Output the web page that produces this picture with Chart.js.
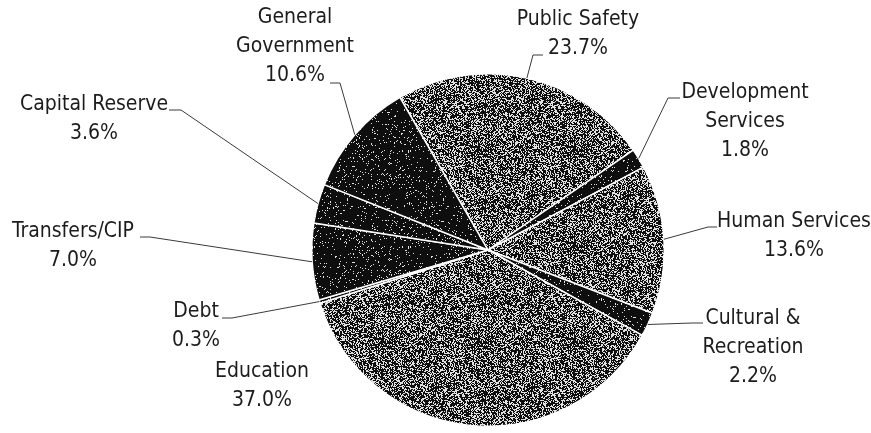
<!DOCTYPE html>
<html>
<head>
<meta charset="utf-8">
<script src="https://cdn.jsdelivr.net/npm/chart.js@4.4.1/dist/chart.umd.min.js"></script>
<style>
  html, body { margin: 0; padding: 0; background: #fff; }
  #wrap { width: 871px; height: 433px; }
</style>
</head>
<body>
<div id="wrap"><canvas id="chartPie" width="871" height="433"></canvas></div>
<script>
// Dados do gráfico (ordem horária a partir de Public Safety)
const categorias = ['Public Safety', 'Development Services', 'Human Services', 'Cultural & Recreation',
    'Education', 'Debt', 'Transfers/CIP', 'Capital Reserve', 'General Government'];
const percentuais = [23.7, 1.8, 13.6, 2.2, 37.0, 0.3, 7.0, 3.6, 10.6];
const rotulos = [['Public Safety'], ['Development', 'Services'], ['Human Services'], ['Cultural &', 'Recreation'],
    ['Education'], ['Debt'], ['Transfers/CIP'], ['Capital Reserve'], ['General', 'Government']];

// tom de cada fatia: 'claro' = cinza pontilhado, 'escuro' = quase preto
const tons = ['claro', 'escuro', 'claro', 'escuro', 'claro', 'escuro', 'escuro', 'escuro', 'escuro'];

// Layout dos rótulos (centro do texto, início da linha guia e cotovelo)
const layoutRotulos = [
    { x: 578, y: 20, de: [543, 55], cot: [533, 55] },
    { x: 745, y: 93, de: [680, 98], cot: [668, 98] },
    { x: 794, y: 222, de: [717, 227], cot: [708, 227] },
    { x: 753, y: 319, de: [703, 323], cot: [692, 323] },
    { x: 262, y: 372, de: null },
    { x: 196, y: 312, de: [222, 318], cot: [232, 318] },
    { x: 73, y: 232, de: [140, 237], cot: [150, 237] },
    { x: 94, y: 105, de: [169, 110], cot: [181, 110] },
    { x: 295, y: 18, de: [330, 83], cot: [340, 83] }
];

const FONTE = '21px "DejaVu Sans Condensed", "Liberation Sans Narrow", "Roboto", sans-serif';

// Textura pontilhada imitando a digitalização
function criarTextura(densidade, semente) {
    const c = document.createElement('canvas');
    c.width = 96; c.height = 96;
    const ctx = c.getContext('2d');
    const img = ctx.createImageData(96, 96);
    let s = semente;
    for (let i = 0; i < 96 * 96; i++) {
        s = (s * 1103515245 + 12345) & 0x7fffffff;
        const v = (s / 0x7fffffff) < densidade ? 225 : 14;
        img.data[i * 4] = v;
        img.data[i * 4 + 1] = v;
        img.data[i * 4 + 2] = v;
        img.data[i * 4 + 3] = 255;
    }
    ctx.putImageData(img, 0, 0);
    return ctx.createPattern(c, 'repeat');
}

const ctxBase = document.getElementById('chartPie').getContext('2d');
const texClara = criarTextura(0.38, 7);
const texEscura = criarTextura(0.06, 13);
const cores = tons.map(t => t === 'claro' ? texClara : texEscura);

// Plugin para rótulos externos com linhas guia
const rotulosExternos = {
    id: 'rotulosExternos',
    afterDraw(chart) {
        const ctx = chart.ctx;
        const arcos = chart.getDatasetMeta(0).data;
        ctx.save();
        ctx.font = FONTE;
        ctx.fillStyle = '#1c1c1c';
        ctx.textAlign = 'center';
        ctx.textBaseline = 'middle';

        arcos.forEach((arco, i) => {
            const lay = layoutRotulos[i];
            const linhas = rotulos[i].concat([percentuais[i].toFixed(1) + '%']);
            linhas.forEach((txt, k) => ctx.fillText(txt, lay.x, lay.y + k * 29));

            if (!lay.de) return;
            const meio = (arco.startAngle + arco.endAngle) / 2;
            const px = arco.x + Math.cos(meio) * arco.outerRadius;
            const py = arco.y + Math.sin(meio) * arco.outerRadius;
            ctx.strokeStyle = '#3a3a3a';
            ctx.lineWidth = 1;
            ctx.beginPath();
            ctx.moveTo(lay.de[0], lay.de[1]);
            ctx.lineTo(lay.cot[0], lay.cot[1]);
            ctx.lineTo(px, py);
            ctx.stroke();
        });
        ctx.restore();
    }
};

new Chart(ctxBase, {
    type: 'pie',
    data: {
        labels: categorias,
        datasets: [{
            data: percentuais,
            backgroundColor: cores,
            borderColor: '#ffffff',
            borderWidth: 1.5
        }]
    },
    options: {
        responsive: false,
        animation: false,
        rotation: -30,
        layout: { padding: { top: 73, bottom: 6, left: 311, right: 206 } },
        plugins: { legend: { display: false }, tooltip: { enabled: false } }
    },
    plugins: [rotulosExternos]
});
</script>
</body>
</html>
